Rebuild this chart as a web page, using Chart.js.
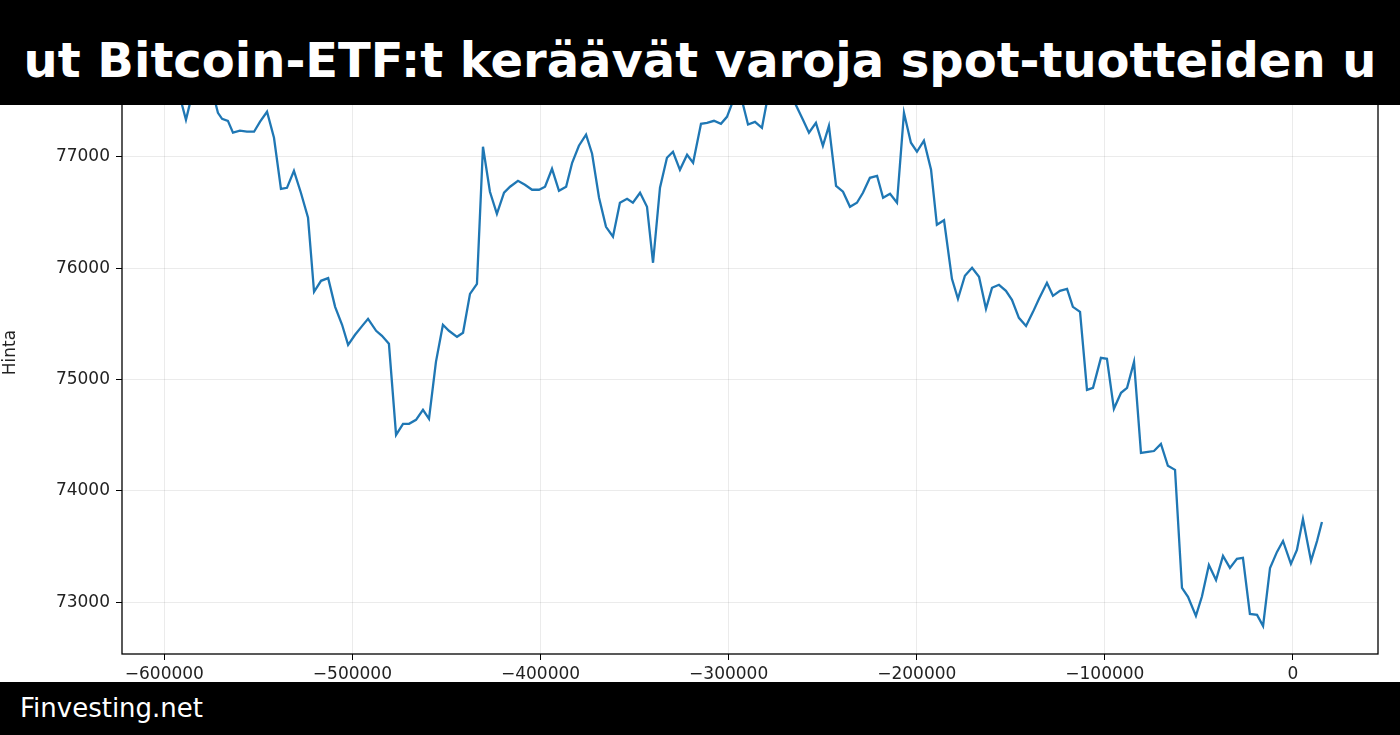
<!DOCTYPE html>
<html>
<head>
<meta charset="utf-8">
<script src="https://cdn.jsdelivr.net/npm/chart.js@4"></script>
<style>
  html, body { margin: 0; padding: 0; background: #fff; }
  #wrap { position: relative; width: 1400px; height: 735px; overflow: hidden; }
  #top { position: absolute; left: 0; top: 0; width: 1400px; height: 105px; background: #000;
         color: #fff; font: bold 48px "DejaVu Sans"; white-space: nowrap; text-align: center;
         line-height: 124px; overflow: hidden; }
  #top span { position: absolute; left: 50%; transform: translateX(-50%); top: -2px; }
  #bottom { position: absolute; left: 0; top: 682px; width: 1400px; height: 53px; background: #000;
            color: #fff; font: 26px "DejaVu Sans"; line-height: 53px; padding-left: 20px; box-sizing: border-box; }
</style>
</head>
<body>
<div id="wrap">
  <canvas id="chart" width="1400" height="735"></canvas>
  <div id="top"><span>ut Bitcoin-ETF:t keräävät varoja spot-tuotteiden u</span></div>
  <div id="bottom">Finvesting.net</div>
</div>
<script>
// time offsets (thousands of seconds) and prices
const times = [
  -592.2, -590.6, -588.5, -585.8, -581.6, -577.8, -574.0, -571.5, -569.3, -566.2,
  -563.5, -559.8, -556.1, -552.3, -549.1, -545.4, -541.7, -538.0, -534.8, -531.1,
  -527.4, -523.6, -520.4, -516.7, -512.9, -509.2, -505.5, -502.3, -498.6, -494.8,
  -491.7, -487.4, -484.3, -480.6, -476.8, -473.1, -469.9, -466.2, -462.5, -459.3,
  -455.6, -451.9, -448.7, -444.4, -441.2, -437.5, -433.8, -430.6, -426.9, -423.2,
  -419.4, -416.2, -412.0, -408.3, -404.5, -400.8, -397.6, -393.9, -390.2, -386.4,
  -383.2, -379.6, -375.8, -372.6, -368.9, -365.2, -361.5, -357.8, -354.0, -350.9,
  -347.1, -343.4, -340.2, -336.5, -332.8, -329.6, -325.9, -322.1, -318.9, -314.7,
  -311.5, -307.8, -304.1, -300.9, -297.7, -294.0, -289.7, -286.0, -282.3, -279.6,
  -275.9, -272.2, -268.4, -264.7, -260.5, -257.3, -253.6, -249.9, -246.7, -242.9,
  -239.2, -235.5, -231.8, -228.6, -224.9, -221.1, -217.9, -214.2, -210.5, -206.8,
  -203.1, -199.9, -196.2, -192.4, -189.3, -185.5, -181.3, -178.1, -174.4, -170.6,
  -166.9, -163.2, -160.0, -156.3, -152.6, -149.4, -145.7, -141.9, -138.2, -135.0,
  -130.8, -127.6, -123.9, -120.1, -117.0, -113.2, -109.5, -106.3, -102.1, -98.9,
  -95.2, -91.4, -88.2, -84.5, -80.8, -77.1, -73.9, -70.2, -66.5, -62.7,
  -59.0, -55.8, -51.6, -48.4, -44.7, -40.9, -37.2, -33.5, -29.8, -26.6,
  -22.9, -19.1, -15.9, -12.2, -8.5, -5.3, -1.1, 2.1, 5.3, 9.6,
  12.8, 15.4
];
const prices = [
  77557, 77467, 77332, 77520, 77600, 77620, 77560, 77395, 77341, 77323,
  77216, 77234, 77225, 77225, 77315, 77404, 77171, 76712, 76721, 76874,
  76677, 76452, 75787, 75886, 75910, 75652, 75491, 75311, 75401, 75481,
  75544, 75437, 75392, 75320, 74502, 74601, 74601, 74637, 74727, 74646,
  75158, 75491, 75437, 75383, 75419, 75769, 75859, 77090, 76686, 76488,
  76677, 76731, 76784, 76749, 76704, 76704, 76731, 76892, 76695, 76731,
  76946, 77099, 77198, 77027, 76632, 76371, 76282, 76587, 76623, 76587,
  76677, 76551, 76048, 76722, 76991, 77045, 76883, 77018, 76946, 77296,
  77305, 77323, 77296, 77359, 77500, 77580, 77290, 77314, 77260, 77500,
  77650, 77700, 77650, 77480, 77332, 77216, 77305, 77099, 77278, 76739,
  76686, 76551, 76587, 76677, 76811, 76829, 76632, 76668, 76587, 77395,
  77126, 77045, 77144, 76883, 76389, 76430, 75904, 75724, 75931, 76003,
  75922, 75634, 75823, 75850, 75796, 75715, 75553, 75481, 75607, 75724,
  75868, 75751, 75796, 75814, 75652, 75607, 74906, 74924, 75194, 75185,
  74736, 74880, 74924, 75158, 74340, 74349, 74357, 74421, 74224, 74188,
  73127, 73047, 72876, 73050, 73334, 73199, 73415, 73307, 73388, 73397,
  72894, 72885, 72786, 73307, 73451, 73549, 73343, 73469, 73747, 73370,
  73549, 73720
];
const xTicks = [-600000, -500000, -400000, -300000, -200000, -100000, 0];
const yTicks = [73000, 74000, 75000, 76000, 77000];

const points = times.map((t, i) => ({ x: t * 1000, y: prices[i] }));
const tickFont = { family: 'DejaVu Sans', size: 17 };

const frame = {
  id: 'frame',
  afterDraw(chart) {
    const a = chart.chartArea, ctx = chart.ctx;
    ctx.save();
    ctx.strokeStyle = '#000';
    ctx.lineWidth = 1.3;
    ctx.strokeRect(a.left, a.top, a.right - a.left, a.bottom - a.top);
    ctx.restore();
  }
};

new Chart(document.getElementById('chart'), {
  type: 'scatter',
  data: {
    datasets: [{
      data: points,
      showLine: true,
      borderColor: '#1f77b4',
      borderWidth: 2.3,
      pointRadius: 0,
      tension: 0
    }]
  },
  options: {
    responsive: false,
    animation: false,
    layout: { padding: { top: 51, right: 22, left: 0, bottom: 0 } },
    plugins: { legend: { display: false }, tooltip: { enabled: false } },
    scales: {
      x: {
        type: 'linear',
        min: -622500,
        max: 45200,
        afterBuildTicks: s => { s.ticks = xTicks.map(v => ({ value: v })); },
        afterFit: s => { s.height = 81; },
        ticks: {
          font: tickFont, color: '#222', padding: 4, maxRotation: 0,
          callback: v => String(v).replace('-', '\u2212')
        },
        grid: { color: 'rgba(0,0,0,0.08)', tickColor: '#000', tickLength: 6 },
        border: { display: false }
      },
      y: {
        min: 72534,
        max: 77950,
        afterBuildTicks: s => { s.ticks = yTicks.map(v => ({ value: v })); },
        afterFit: s => { s.width = 122; },
        ticks: { font: tickFont, color: '#222', padding: 6, callback: v => String(v) },
        grid: { color: 'rgba(0,0,0,0.08)', tickColor: '#000', tickLength: 6 },
        border: { display: false },
        title: { display: true, text: 'Hinta', font: { family: 'DejaVu Sans', size: 17 }, color: '#222', padding: 0 }
      }
    }
  },
  plugins: [frame]
});
</script>
</body>
</html>
